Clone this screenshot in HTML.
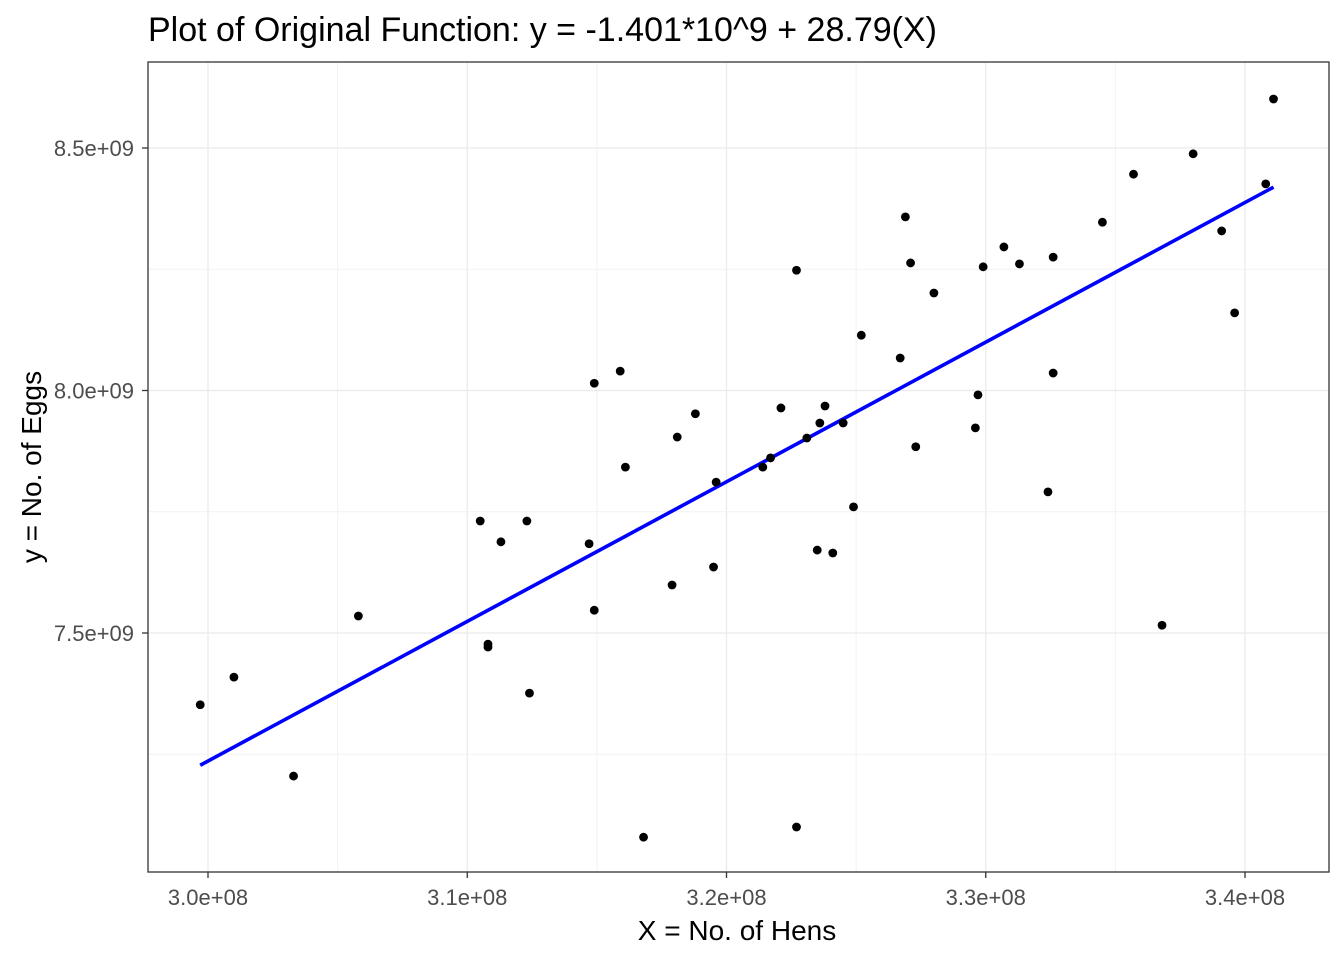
<!DOCTYPE html>
<html><head><meta charset="utf-8">
<style>
html,body{margin:0;padding:0;background:#fff;}
svg{display:block;font-family:"Liberation Sans",Arial,sans-serif;}
</style></head>
<body>
<svg id="chart" width="1344" height="960" viewBox="0 0 1344 960" xmlns="http://www.w3.org/2000/svg">
<rect width="1344" height="960" fill="#fff"/>
<text x="148" y="41" font-size="34" fill="#000">Plot of Original Function: y = -1.401*10^9 + 28.79(X)</text>
<g id="grid"></g>
<g id="line"></g>
<g id="points"></g>
<rect x="148" y="62" width="1181" height="810" fill="none" stroke="#333" stroke-width="1.3"/>
<g id="axes"></g>
<text x="737" y="940" font-size="28" text-anchor="middle" fill="#000">X = No. of Hens</text>
<text transform="translate(41,467) rotate(-90)" font-size="28" text-anchor="middle" fill="#000">y = No. of Eggs</text>
</svg>
<script>
const xValues = [299.7,301.0,303.3,305.8,310.5,310.8,310.8,311.3,312.3,312.4,314.7,314.9,314.9,315.9,316.1,316.8,317.9,318.1,318.8,319.5,319.6,321.4,321.7,322.1,322.7,322.7,323.1,323.5,323.6,323.8,324.1,324.5,324.9,325.2,326.7,326.9,327.1,327.3,328.0,329.7,329.6,329.9,330.7,331.3,332.4,332.6,332.6,334.5,335.7,336.8,338.0,339.1,339.6,340.8,341.1];
const yValues = [7.352,7.409,7.205,7.535,7.731,7.471,7.477,7.688,7.731,7.376,7.684,8.015,7.547,8.040,7.842,7.079,7.599,7.904,7.952,7.636,7.811,7.842,7.861,7.964,8.248,7.100,7.902,7.671,7.933,7.968,7.665,7.933,7.760,8.114,8.067,8.358,8.263,7.884,8.201,7.991,7.923,8.255,8.296,8.261,7.791,8.275,8.036,8.347,8.446,7.516,8.488,8.329,8.160,8.426,8.601];
const xTicks = [300,310,320,330,340];
const xTickLabels = ["3.0e+08","3.1e+08","3.2e+08","3.3e+08","3.4e+08"];
const yTicks = [7.5,8.0,8.5];
const yTickLabels = ["7.5e+09","8.0e+09","8.5e+09"];
const intercept = -1.401; // e9
const slope = 28.79;      // eggs per hen

const NS="http://www.w3.org/2000/svg";
function xs(v){return 208 + (v-300)*25.925;}
function ys(v){return 148 + (8.5-v)*485;}
function mk(tag,attrs,parent){const e=document.createElementNS(NS,tag);for(const k in attrs)e.setAttribute(k,attrs[k]);parent.appendChild(e);return e;}

const grid=document.getElementById('grid');
const L=148,R=1329,T=62,B=872;
for(let i=0;i<xTicks.length;i++){
  const xm=xs(xTicks[i]-5);
  if(xm>L){const e=mk('line',{x1:xm,x2:xm,y1:T,y2:B,stroke:'#f2f2f2','stroke-width':1},grid);
  
  }
  const e=mk('line',{x1:xs(xTicks[i]),x2:xs(xTicks[i]),y1:T,y2:B,stroke:'#ebebeb','stroke-width':1.3},grid);
  
  
}
const xlast=xs(xTicks[xTicks.length-1]+5);
if(xlast<R){const e=mk('line',{x1:xlast,x2:xlast,y1:T,y2:B,stroke:'#f2f2f2','stroke-width':1},grid);

}
const yMinor=[yTicks[0]-0.25].concat(yTicks.map(v=>v+0.25));
for(const v of yMinor){const y=ys(v);if(y>T&&y<B){const e=mk('line',{x1:L,x2:R,y1:y,y2:y,stroke:'#f2f2f2','stroke-width':1},grid);

}}
for(const v of yTicks){const e=mk('line',{x1:L,x2:R,y1:ys(v),y2:ys(v),stroke:'#ebebeb','stroke-width':1.3},grid);

}

const xmin=Math.min(...xValues), xmax=Math.max(...xValues);
const lg=document.getElementById('line');
const ln=mk('line',{x1:xs(xmin),y1:ys(intercept+slope*xmin/1000),x2:xs(xmax),y2:ys(intercept+slope*xmax/1000),stroke:'#0000ff','stroke-width':3.6},lg);



const pg=document.getElementById('points');
for(let i=0;i<xValues.length;i++){
  const c=mk('circle',{cx:xs(xValues[i]),cy:ys(yValues[i]),r:4.4,fill:'#000'},pg);
  
  
}

const ax=document.getElementById('axes');
for(let i=0;i<xTicks.length;i++){
  const x=xs(xTicks[i]);
  const t=mk('line',{x1:x,x2:x,y1:B,y2:B+6,stroke:'#333','stroke-width':1.3},ax);
  
  
  const l=mk('text',{x:x,y:B+33,'font-size':22,'text-anchor':'middle',fill:'#4d4d4d'},ax);
  l.textContent=xTickLabels[i];
  
  
}
for(let i=0;i<yTicks.length;i++){
  const y=ys(yTicks[i]);
  const t=mk('line',{x1:L-6,x2:L,y1:y,y2:y,stroke:'#333','stroke-width':1.3},ax);
  
  
  const l=mk('text',{x:L-14,y:y+8,'font-size':22,'text-anchor':'end',fill:'#4d4d4d'},ax);
  l.textContent=yTickLabels[i];
  
  
}
</script>
</body></html>
